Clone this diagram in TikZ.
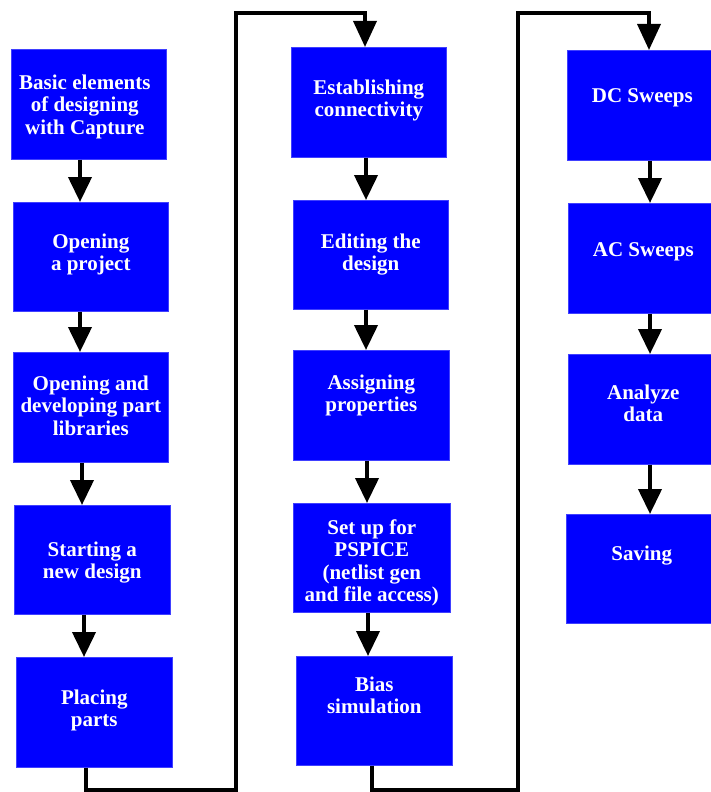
\documentclass[tikz,border=0pt]{standalone}
\usepackage{fontspec}
\setmainfont{Liberation Serif}
\usetikzlibrary{arrows.meta,calc}
\begin{document}
\begin{tikzpicture}[x=1pt,y=-1pt,
  box/.style={fill=blue, draw=blue!75!white, line width=0.6pt, anchor=north west, inner sep=0pt, minimum height=110pt},
  txt/.style={text=white, font=\bfseries\fontsize{21}{22.5}\selectfont, align=center, inner sep=0pt, anchor=north},
  arr/.style={line width=4pt, -{Triangle[width=23pt,length=25pt]}},
  loopline/.style={line width=3.6pt, -{Triangle[width=23pt,length=26pt]}}
]
\useasboundingbox (0,0) rectangle (711,792);
\clip (0,0) rectangle (711,792);
\fill[white] (0,0) rectangle (711,792);

% column 1
\node[box, minimum width=155pt] (b1) at (11,49) {};
\node[box, minimum width=155pt, minimum height=109pt] (b2) at (13,202) {};
\node[box, minimum width=155pt] (b3) at (13,352) {};
\node[box, minimum width=156pt, minimum height=109pt] (b4) at (14,505) {};
\node[box, minimum width=156pt] (b5) at (16,657) {};

% column 2
\node[box, minimum width=155pt] (e1) at (291,47) {};
\node[box, minimum width=155pt, minimum height=109pt] (e2) at (293,200) {};
\node[box, minimum width=156pt] (e3) at (293,350) {};
\node[box, minimum width=157pt, minimum height=109pt] (e4) at (293,503) {};
\node[box, minimum width=156pt, minimum height=109pt] (e5) at (296,656) {};

% column 3
\node[box, minimum width=150pt] (d1) at (567,50) {};
\node[box, minimum width=150pt] (d2) at (568,203) {};
\node[box, minimum width=150pt] (d3) at (568,354) {};
\node[box, minimum width=151pt, minimum height=109pt] (d4) at (566,514) {};

% texts
\node[txt] (tb1) at ([xshift=-4pt,yshift=-25.5pt]b1.north) {Basic elements\\of designing\\with Capture};
\node[txt] (tb2) at ([yshift=-31.5pt]b2.north) {Opening\\a project};
\node[txt] (tb3) at ([yshift=-23.5pt]b3.north) {Opening and\\developing part\\libraries};
\node[txt] (tb4) at ([yshift=-36.5pt]b4.north) {Starting a\\new design};
\node[txt] (tb5) at ([yshift=-32.5pt]b5.north) {Placing\\parts};
\node[txt] (te1) at ([yshift=-32.5pt]e1.north) {Establishing\\connectivity};
\node[txt] (te2) at ([yshift=-33.5pt]e2.north) {Editing the\\design};
\node[txt] (te3) at ([yshift=-24.5pt]e3.north) {Assigning\\properties};
\node[txt] (te4) at ([yshift=-16.5pt]e4.north) {Set up for\\PSPICE\\(netlist gen\\and file access)};
\node[txt] (te5) at ([yshift=-20.5pt]e5.north) {Bias\\simulation};
\node[txt] (td1) at ([yshift=-38.5pt]d1.north) {DC Sweeps};
\node[txt] (td2) at ([yshift=-39.5pt]d2.north) {AC Sweeps};
\node[txt] (td3) at ([yshift=-30.5pt]d3.north) {Analyze\\data};
\node[txt] (td4) at ([yshift=-31.5pt]d4.north) {Saving};

% arrow start points
\coordinate (s1) at ($(b1.south west)+(69,0)$);
\coordinate (s2) at ($(b2.south west)+(67,0)$);
\coordinate (s3) at ($(b3.south west)+(69,0)$);
\coordinate (s4) at ($(b4.south west)+(70,0)$);
\coordinate (s5) at ($(b5.south west)+(70,0)$);
\coordinate (u1) at ($(e1.south west)+(75,0)$);
\coordinate (u2) at ($(e2.south west)+(73,0)$);
\coordinate (u3) at ($(e3.south west)+(74,0)$);
\coordinate (u4) at ($(e4.south west)+(75,0)$);
\coordinate (u5) at ($(e5.south west)+(76,0)$);
\coordinate (v1) at ($(d1.south west)+(83,0)$);
\coordinate (v2) at ($(d2.south west)+(82,0)$);
\coordinate (v3) at ($(d3.south west)+(82,0)$);

% column arrows
\draw[arr] (s1) -- (s1 |- b2.north);
\draw[arr] (s2) -- (s2 |- b3.north);
\draw[arr] (s3) -- (s3 |- b4.north);
\draw[arr] (s4) -- (s4 |- b5.north);
\draw[arr] (u1) -- (u1 |- e2.north);
\draw[arr] (u2) -- (u2 |- e3.north);
\draw[arr] (u3) -- (u3 |- e4.north);
\draw[arr] (u4) -- (u4 |- e5.north);
\draw[arr] (v1) -- (v1 |- d2.north);
\draw[arr] (v2) -- (v2 |- d3.north);
\draw[arr] (v3) -- (v3 |- d4.north);

% loop connectors
\coordinate (p1) at (236,790);
\coordinate (p2) at (236,13);
\coordinate (p3) at (365,13);
\draw[loopline] (s5) |- (p1) -- (p2) -- (p3) -- (p3 |- e1.north);
\coordinate (q1) at (518,790);
\coordinate (q2) at (518,13);
\coordinate (q3) at (649,13);
\draw[loopline] (u5) |- (q1) -- (q2) -- (q3) -- (q3 |- d1.north);
\end{tikzpicture}
\end{document}
